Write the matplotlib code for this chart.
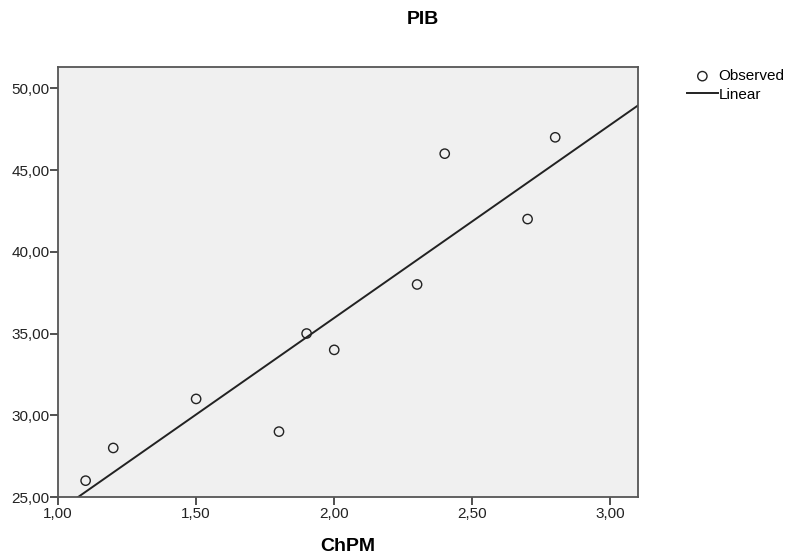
import numpy as np
import matplotlib.pyplot as plt
from matplotlib.ticker import FuncFormatter

plt.rcParams['font.family'] = ['Liberation Sans', 'DejaVu Sans']

# observed values
chpm = [1.1, 1.2, 1.5, 1.8, 1.9, 2.0, 2.3, 2.4, 2.7, 2.8]
pib = [26, 28, 31, 29, 35, 34, 38, 46, 42, 47]
x_ticks = [1.0, 1.5, 2.0, 2.5, 3.0]
y_ticks = [25, 30, 35, 40, 45, 50]

# linear fit
slope, intercept = np.polyfit(chpm, pib, 1)
xs = np.array([1.0, 3.1])

fig = plt.figure(figsize=(7.86, 5.57), dpi=100)
ax = fig.add_axes([0.0738, 0.1077, 0.738, 0.772])
ax.set_facecolor('#f0f0f0')

ax.scatter(chpm, pib, s=45, facecolors='none', edgecolors='#222222',
           linewidths=1.0, zorder=3, label='Observed')
ax.plot(xs, slope * xs + intercept, color='#222222', lw=1.4, label='Linear')

ax.set_xlim(1.0, 3.1)
ax.set_ylim(25, 51.3)
ax.set_xticks(x_ticks)
ax.set_yticks(y_ticks)
fmt = FuncFormatter(lambda v, p: f'{v:.2f}'.replace('.', ','))
ax.xaxis.set_major_formatter(fmt)
ax.yaxis.set_major_formatter(fmt)
ax.tick_params(direction='out', length=6, width=1.2, color='#333333',
               labelsize=11, labelcolor='#222222', pad=0)
ax.tick_params(axis='x', pad=1.5)
for s in ax.spines.values():
    s.set_color('#555555')
    s.set_linewidth(1.3)

ax.set_xlabel('ChPM', fontsize=14, fontweight='bold', labelpad=12)
fig.suptitle('PIB', x=0.538, y=0.98, fontsize=14, fontweight='bold')

ax.legend(loc='upper left', bbox_to_anchor=(1.0845, 0.995), frameon=False,
          fontsize=11, handlelength=2.0, handletextpad=0.05, labelspacing=0.3,
          borderaxespad=0, borderpad=0)

plt.savefig('out.png')
